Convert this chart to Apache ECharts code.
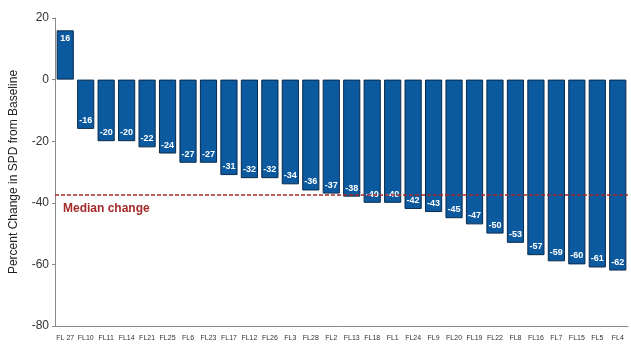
<!DOCTYPE html>
<html><head><meta charset="utf-8">
<script src="https://cdn.jsdelivr.net/npm/echarts@6/dist/echarts.min.js"></script>
<style>html,body{margin:0;padding:0;background:#fff}#c{width:631px;height:345px}</style>
</head><body><div id="c"></div>
<script>
const categories = ['FL 27','FL10','FL11','FL14','FL21','FL25','FL6','FL23','FL17','FL12','FL26','FL3','FL28','FL2','FL13','FL18','FL1','FL24','FL9','FL20','FL19','FL22','FL8','FL16','FL7','FL15','FL5','FL4'];
const values = [16,-16,-20,-20,-22,-24,-27,-27,-31,-32,-32,-34,-36,-37,-38,-40,-40,-42,-43,-45,-47,-50,-53,-57,-59,-60,-61,-62];
const medianValue = -37.5;
const yTicks = [-80,-60,-40,-20,0,20];

const chart = echarts.init(document.getElementById('c'));
chart.setOption({
  animation:false,
  grid:{left:49,right:3,top:18,bottom:19,containLabel:false},
  xAxis:{type:'category',data:categories,
    axisLine:{onZero:false,lineStyle:{color:'#8a8a8a',width:1}},
    axisTick:{alignWithLabel:true,length:3,lineStyle:{color:'#8a8a8a'}},
    axisLabel:{interval:0,fontSize:7,color:'#333',margin:9,fontFamily:'Liberation Sans'}},
  yAxis:{type:'value',min:yTicks[0],max:yTicks[yTicks.length-1],interval:20,
    name:'Percent Change in SPD from Baseline',nameLocation:'middle',nameGap:35,
    nameTextStyle:{fontSize:12,color:'#222',fontFamily:'Liberation Sans'},
    axisLine:{show:true,lineStyle:{color:'#8a8a8a'}},
    axisTick:{show:true,length:3,lineStyle:{color:'#8a8a8a'}},
    splitLine:{show:false},
    axisLabel:{fontSize:12,color:'#333',margin:6,fontFamily:'Liberation Sans'}},
  series:[{type:'bar',barCategoryGap:'16%',
    data:values.map(v=>({value:v,label:{position:v>=0?'insideTop':'insideBottom'}})),
    itemStyle:{color:'#0b5a9f',borderColor:'#0a2a4a',borderWidth:1},
    label:{show:true,color:'#fff',fontSize:9,fontWeight:'bold',distance:4,fontFamily:'Liberation Sans'},
    markLine:{silent:true,symbol:'none',
      lineStyle:{color:'#a52a2a',type:[4,2],width:1.5},
      data:[{yAxis:medianValue}],
      label:{show:true,position:'insideStartBottom',formatter:'Median change',color:'#a52a2a',fontSize:12,fontWeight:'bold',fontFamily:'Liberation Sans',distance:[8,8]}}
  }]
});
</script></body></html>
